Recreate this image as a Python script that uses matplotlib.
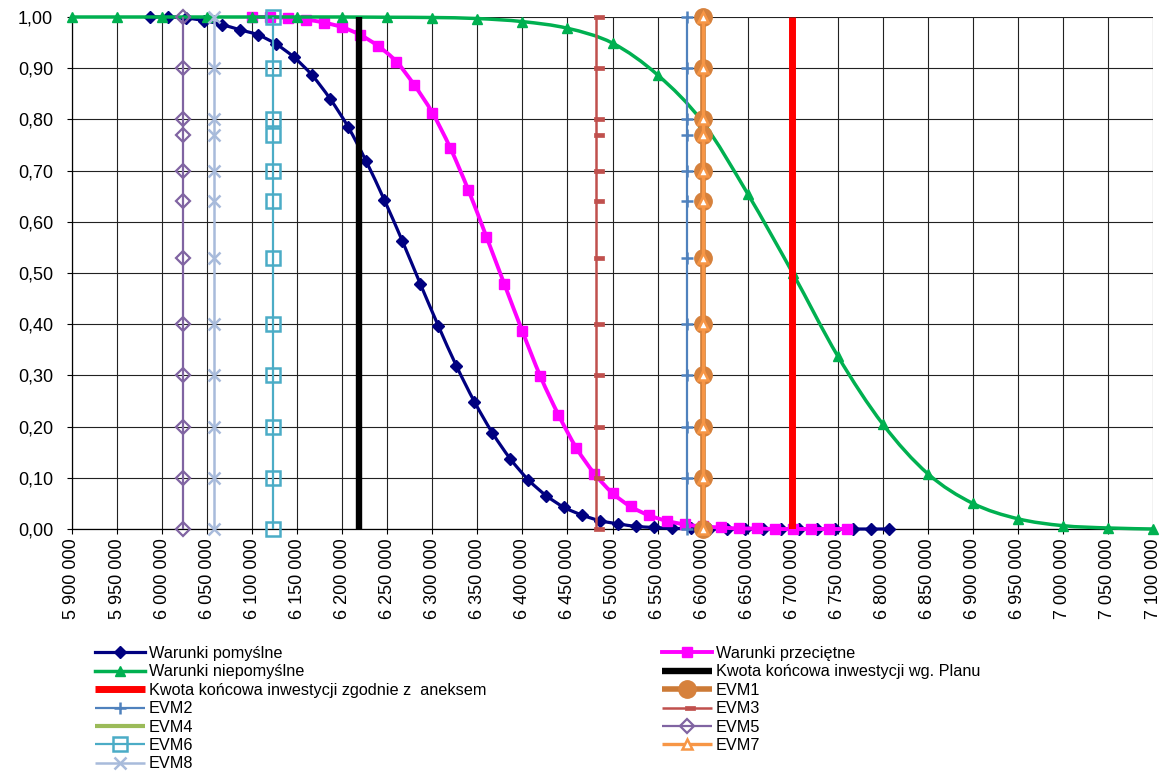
import matplotlib
matplotlib.use('Agg')
import matplotlib.pyplot as plt
from matplotlib.path import Path
from matplotlib.patches import PathPatch
from matplotlib.lines import Line2D
from matplotlib.ticker import FuncFormatter
import numpy as np

plt.rcParams['font.family'] = ['Liberation Sans', 'DejaVu Sans']

# ---------------- data ----------------
pomyslne_x = [5986600, 6006600, 6026600, 6046600, 6066600, 6086600, 6106600,
              6126600, 6146600, 6166600, 6186600, 6206600, 6226600, 6246600,
              6266600, 6286600, 6306600, 6326600, 6346600, 6366600, 6386600,
              6406600, 6426600, 6446600, 6466600, 6486600, 6506600, 6526600,
              6546600, 6566600, 6586600, 6606600, 6626600, 6646600, 6666600,
              6686600, 6706600, 6726600, 6746600, 6766600, 6786600, 6806600]
pomyslne_y = [1.000, 1.000, 0.998, 0.993, 0.985, 0.975, 0.965, 0.947, 0.921,
              0.886, 0.840, 0.785, 0.718, 0.643, 0.563, 0.479, 0.397, 0.319,
              0.249, 0.188, 0.137, 0.096, 0.065, 0.042, 0.027, 0.016, 0.010,
              0.005, 0.003, 0.001, 0.001, 0.0, 0.0, 0.0, 0.0, 0.0, 0.0, 0.0,
              0.0, 0.0, 0.0, 0.0]

przecietne_x = [6100000, 6120000, 6140000, 6160000, 6180000, 6200000, 6220000,
                6240000, 6260000, 6280000, 6300000, 6320000, 6340000, 6360000,
                6380000, 6400000, 6420000, 6440000, 6460000, 6480000, 6500000,
                6520000, 6540000, 6560000, 6580000, 6600000, 6620000, 6640000,
                6660000, 6680000, 6700000, 6720000, 6740000, 6760000]
przecietne_y = [1.000, 1.000, 0.998, 0.995, 0.989, 0.980, 0.965, 0.943, 0.913,
                0.867, 0.813, 0.744, 0.662, 0.571, 0.478, 0.386, 0.298, 0.223,
                0.158, 0.108, 0.070, 0.044, 0.027, 0.016, 0.009, 0.005, 0.003,
                0.001, 0.001, 0.0, 0.0, 0.0, 0.0, 0.0]

niepomyslne_x = [5900000, 5950000, 6000000, 6050000, 6100000, 6150000, 6200000,
                 6250000, 6300000, 6350000, 6400000, 6450000, 6500000, 6550000,
                 6600000, 6650000, 6700000, 6750000, 6800000, 6850000, 6900000,
                 6950000, 7000000, 7050000, 7100000]
niepomyslne_y = [1.000, 1.000, 1.000, 1.000, 1.000, 1.000, 1.000, 0.9995, 0.999,
                 0.997, 0.991, 0.978, 0.949, 0.887, 0.795, 0.655, 0.500, 0.338,
                 0.205, 0.108, 0.050, 0.020, 0.0065, 0.002, 0.000]

plan_x = 6218600          # Kwota końcowa inwestycji wg. Planu
aneks_x = 6699300         # Kwota końcowa inwestycji zgodnie z aneksem
vline_y = [0.0, 1.0]

evm_names = ['EVM1', 'EVM2', 'EVM3', 'EVM4', 'EVM5', 'EVM6', 'EVM7', 'EVM8']
evm_x = [6600000, 6583000, 6481700, 6600000, 6023600, 6123500, 6600000, 6058000]
evm_levels = [0.00, 0.10, 0.20, 0.30, 0.40, 0.53, 0.64, 0.70, 0.77, 0.80, 0.90, 1.00]

x_ticks = [5900000, 5950000, 6000000, 6050000, 6100000, 6150000, 6200000,
           6250000, 6300000, 6350000, 6400000, 6450000, 6500000, 6550000,
           6600000, 6650000, 6700000, 6750000, 6800000, 6850000, 6900000,
           6950000, 7000000, 7050000, 7100000]
y_ticks = [0.0, 0.1, 0.2, 0.3, 0.4, 0.5, 0.6, 0.7, 0.8, 0.9, 1.0]

labels_main = ['Warunki pomyślne', 'Warunki przeciętne', 'Warunki niepomyślne',
               'Kwota końcowa inwestycji wg. Planu',
               'Kwota końcowa inwestycji zgodnie z  aneksem']

# ---------------- figure ----------------
W, H = 1161, 774
fig = plt.figure(figsize=(W / 100, H / 100), dpi=100)
ax = fig.add_axes([72 / W, 1 - 529 / H, (1153 - 72) / W, (529 - 17) / H])
ax.set_xlim(5900000, 7100000)
ax.set_ylim(0, 1)


def smooth_path(xs, ys):
    pts = np.column_stack([xs, ys]).astype(float)
    n = len(pts)
    verts = [pts[0]]
    codes = [Path.MOVETO]
    for i in range(n - 1):
        p0 = pts[i - 1] if i > 0 else pts[i]
        p1 = pts[i]
        p2 = pts[i + 1]
        p3 = pts[i + 2] if i + 2 < n else pts[i + 1]
        c1 = p1 + (p2 - p0) / 6.0
        c2 = p2 - (p3 - p1) / 6.0
        verts += [c1, c2, p2]
        codes += [Path.CURVE4] * 3
    return Path(verts, codes)


def curve(xs, ys, color, lw, marker, ms, z):
    ax.add_patch(PathPatch(smooth_path(xs, ys), fill=False, edgecolor=color,
                           lw=lw, zorder=z, capstyle='round', joinstyle='round',
                           clip_on=False))
    ax.plot(xs, ys, linestyle='none', marker=marker, ms=ms, color=color,
            mec=color, mfc=color, zorder=z, clip_on=False)
    return Line2D([], [], color=color, lw=lw, marker=marker, ms=ms,
                  mfc=color, mec=color)


h_pom = curve(pomyslne_x, pomyslne_y, '#000080', 2.3, 'D', 6.0, 3)
h_prz = curve(przecietne_x, przecietne_y, '#ff00ff', 2.8, 's', 7.5, 4)
h_nie = curve(niepomyslne_x, niepomyslne_y, '#00b050', 2.5, '^', 7.5, 5)

h_plan, = ax.plot([plan_x, plan_x], vline_y, color='black', lw=4.6, zorder=6,
                  solid_capstyle='butt')
h_aneks, = ax.plot([aneks_x, aneks_x], vline_y, color='#ff0000', lw=5.0, zorder=7,
                   solid_capstyle='butt')

dash_marker = [(-0.25, -0.22), (1, -0.22), (1, 0.22), (-0.25, 0.22), (-0.25, -0.22)]
evm_styles = [
    dict(color='#cc7a36', lw=4.0, marker='o', ms=12.5, mfc='#d6813c', mec='#d6813c'),
    dict(color='#4f81bd', lw=1.6, marker='+', ms=8.5, mew=1.8),
    dict(color='#c0504d', lw=1.8, marker=dash_marker, ms=11.5, mfc='#c0504d',
         mec='#c0504d', mew=0.5),
    dict(color='#9bbb59', lw=3.0),
    dict(color='#8064a2', lw=1.6, marker='D', ms=6.8, mfc='none', mec='#8064a2', mew=1.6),
    dict(color='#4bacc6', lw=1.6, marker='s', ms=9.5, mfc='none', mec='#4bacc6', mew=1.8),
    dict(color='#f79646', lw=2.4, marker='^', ms=7.5, mfc='white', mec='#f79646', mew=1.8),
    dict(color='#a8bbdb', lw=1.8, marker='x', ms=9, mew=1.8),
]
evm_handles = []
order_z = [8, 9, 10, 7.9, 12, 13, 14, 15]
for name, xv, st, z in zip(evm_names, evm_x, evm_styles, order_z):
    h, = ax.plot([xv] * len(evm_levels), evm_levels, zorder=z, clip_on=False,
                 solid_capstyle='butt', **st)
    evm_handles.append(h)

# ---------------- axes styling ----------------
ax.set_xticks(x_ticks)
ax.set_yticks(y_ticks)
ax.xaxis.set_major_formatter(FuncFormatter(lambda v, p: f"{int(round(v)):,}".replace(',', ' ')))
ax.yaxis.set_major_formatter(FuncFormatter(lambda v, p: f"{v:.2f}".replace('.', ',')))
ax.tick_params(axis='x', direction='out', length=3.6, width=0.8, pad=3,
               labelsize=13, labelrotation=90)
ax.tick_params(axis='y', direction='out', length=3.6, width=0.8, pad=10,
               labelsize=13)
ax.grid(True, color='#222222', lw=0.8)
ax.set_axisbelow(True)
for s in ['top', 'right']:
    ax.spines[s].set_visible(False)
for s in ['left', 'bottom']:
    ax.spines[s].set_color('black')
    ax.spines[s].set_linewidth(0.9)
    ax.spines[s].set_zorder(2.5)

# ---------------- legends ----------------
leg_kw = dict(loc='upper left', bbox_transform=fig.transFigure, frameon=False,
              borderpad=0, borderaxespad=0, handlelength=3.05, handletextpad=0.25,
              labelspacing=0.21, fontsize=11.7)
left_h = [h_pom, h_nie, h_aneks, evm_handles[1], evm_handles[3], evm_handles[5], evm_handles[7]]
left_l = [labels_main[0], labels_main[2], labels_main[4], 'EVM2', 'EVM4', 'EVM6', 'EVM8']
right_h = [h_prz, h_plan, evm_handles[0], evm_handles[2], evm_handles[4], evm_handles[6]]
right_l = [labels_main[1], labels_main[3], 'EVM1', 'EVM3', 'EVM5', 'EVM7']
leg1 = fig.legend(left_h, left_l, bbox_to_anchor=(95 / W, 1 - 646 / H), **leg_kw)
leg2 = fig.legend(right_h, right_l, bbox_to_anchor=(662 / W, 1 - 646 / H), **leg_kw)

fig.savefig('out.png', dpi=100)
